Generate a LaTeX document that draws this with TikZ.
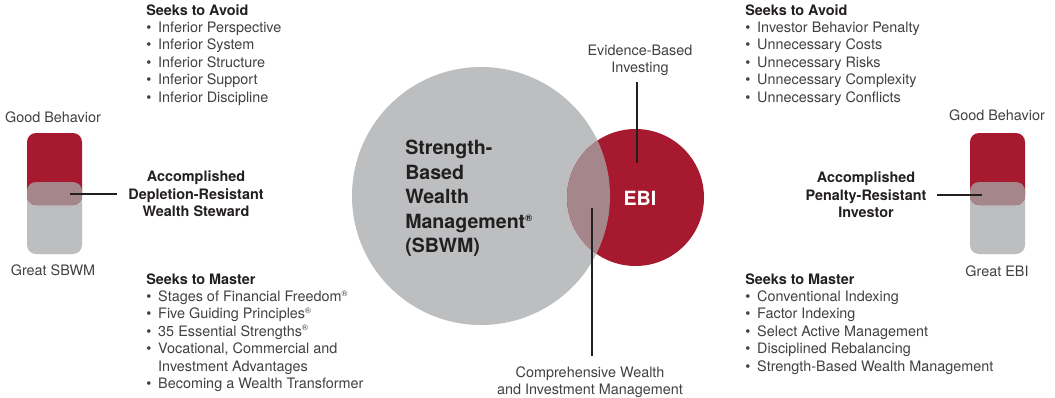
\documentclass[tikz,border=0pt]{standalone}
\usepackage{fontspec}
\setmainfont{TeX Gyre Heros}
\definecolor{redc}{HTML}{A6192E}
\definecolor{grayc}{HTML}{BCBEC0}
\definecolor{overc}{HTML}{A5868B}
\definecolor{txtdark}{HTML}{231F20}
\definecolor{txtgray}{HTML}{414042}
\newcommand{\regmk}{\textsuperscript{\fontsize{6pt}{6pt}\selectfont ®}}
\newcommand{\bul}{\textbullet\hspace{5.2pt}}
\begin{document}
\begin{tikzpicture}[x=0.75pt,y=-0.75pt,
  body/.style={font=\fontsize{10.8pt}{13pt}\selectfont, text=txtgray, inner sep=0pt},
  head/.style={font=\fontsize{10.8pt}{13pt}\selectfont\bfseries, text=txtdark, inner sep=0pt},
  big/.style={font=\fontsize{14.7pt}{18.4pt}\selectfont\bfseries, text=txtdark, inner sep=0pt},
  conn/.style={draw=txtdark, line width=1pt}]
\useasboundingbox[fill=white] (0,0) rectangle (1055,397);

% circles
\node[circle, fill=grayc, inner sep=0pt, minimum size=193.5pt] (sbwm) at (481,196) {};
\node[circle, fill=redc, inner sep=0pt, minimum size=102.75pt] (ebi) at (635.5,197.5) {};
\begin{scope}
  \clip (481,196) circle[radius=96.75pt];
  \fill[overc] (635.5,197.5) circle[radius=51.375pt];
\end{scope}
\node[big, anchor=north west, align=left] (sbwmtxt) at (405,140)
  {Strength-\\Based\\Wealth\\Management\textsuperscript{\fontsize{7pt}{7pt}\selectfont ®}\\(SBWM)};
\node[big, text=white] (ebitxt) at (640,198) {EBI};

% circle labels
\node[body, align=center] (evl) at (640,60) {Evidence-Based\\Investing};
\coordinate (evT) at (637,163);
\coordinate (evB) at ([yshift=-5pt]evl.south);
\draw[conn] (evB -| evT) -- (evT);
\node[body, align=center, anchor=north] (cwl) at (590,366.6) {Comprehensive Wealth\\and Investment Management};
\coordinate (cwT) at (592,208);
\coordinate (cwB) at ([yshift=8pt]cwl.north);
\draw[conn] (cwB -| cwT) -- (cwT);

% left bar
\fill[grayc, rounded corners=6.75pt] (27,182) rectangle (82,254);
\fill[redc, rounded corners=6.75pt] (27,133) rectangle (82,205);
\fill[overc, rounded corners=6.75pt] (27,182) rectangle (82,205);
\node[body, anchor=base] (gbL) at (53,122) {Good Behavior};
\node[body, anchor=base] (gsL) at (53,275) {Great SBWM};
\node[head, align=center] (accL) at (196,194) {Accomplished\\Depletion-Resistant\\Wealth Steward};
\coordinate (barL) at (70,194);
\draw[conn] ([xshift=-8pt]accL.west) -- (barL);

% right bar
\fill[grayc, rounded corners=6.75pt] (970,182) rectangle (1025,254);
\fill[redc, rounded corners=6.75pt] (970,133) rectangle (1025,205);
\fill[overc, rounded corners=6.75pt] (970,182) rectangle (1025,205);
\node[body, anchor=base] (gbR) at (997,120) {Good Behavior};
\node[body, anchor=base] (geR) at (997,276) {Great EBI};
\node[head, align=center] (accR) at (866,195) {Accomplished\\Penalty-Resistant\\Investor};
\coordinate (barR) at (982,195);
\draw[conn] ([xshift=8pt]accR.east) -- (barR);

% lists
\node[head, anchor=base west] (avL) at (146,15) {Seeks to Avoid};
\foreach \t [count=\i] in {Inferior Perspective,Inferior System,Inferior Structure,Inferior Support,Inferior Discipline}
  \node[body, anchor=base west] (avL\i) at ({146},{15+17.4*\i}) {\bul\t};

\node[head, anchor=base west] (avR) at (745,15) {Seeks to Avoid};
\foreach \t [count=\i] in {Investor Behavior Penalty,Unnecessary Costs,Unnecessary Risks,Unnecessary Complexity,Unnecessary Conflicts}
  \node[body, anchor=base west] (avR\i) at ({745},{15+17.4*\i}) {\bul\t};

\node[head, anchor=base west] (msL) at (146,284) {Seeks to Master};
\foreach \t [count=\i] in {{\bul Stages of Financial Freedom\regmk},{\bul Five Guiding Principles\regmk},{\bul 35 Essential Strengths\regmk},{\bul Vocational, Commercial and},{\phantom{\bul}Investment Advantages},{\bul Becoming a Wealth Transformer}}
  \node[body, anchor=base west] (msL\i) at ({146},{284+17.4*\i}) {\t};

\node[head, anchor=base west] (msR) at (745,284) {Seeks to Master};
\foreach \t [count=\i] in {Conventional Indexing,Factor Indexing,Select Active Management,Disciplined Rebalancing,Strength-Based Wealth Management}
  \node[body, anchor=base west] (msR\i) at ({745},{284+17.4*\i}) {\bul\t};
\end{tikzpicture}
\end{document}
